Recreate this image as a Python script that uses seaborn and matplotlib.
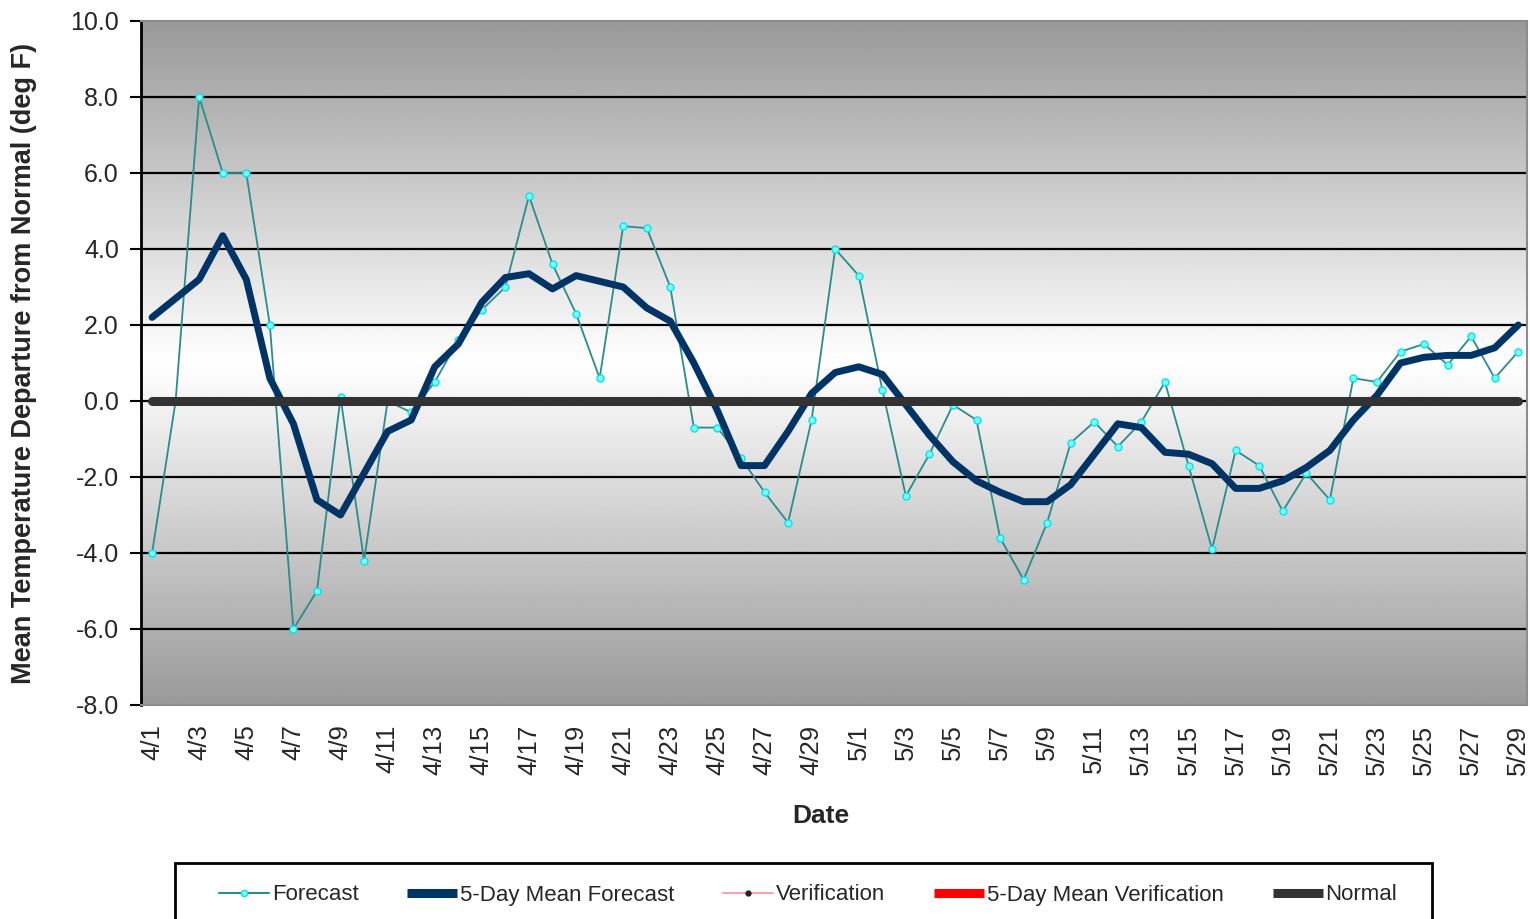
import numpy as np
import pandas as pd
import matplotlib
matplotlib.use("Agg")
import matplotlib.pyplot as plt
from matplotlib.lines import Line2D
from matplotlib.patches import Rectangle
import seaborn as sns

# Daily labels, 1 April through 29 May
dates = [f"4/{d}" for d in range(1, 31)] + [f"5/{d}" for d in range(1, 30)]

# Daily forecast departure from normal (deg F)
forecast = [
    -4.0, 0.0, 8.0, 6.0, 6.0, 2.0, -6.0, -5.0, 0.1, -4.2,
    0.0, -0.3, 0.5, 1.6, 2.4, 3.0, 5.4, 3.6, 2.3, 0.6,
    4.6, 4.55, 3.0, -0.7, -0.7, -1.5, -2.4, -3.2, -0.5, 4.0,
    3.3, 0.3, -2.5, -1.4, -0.1, -0.5, -3.6, -4.7, -3.2, -1.1,
    -0.55, -1.2, -0.55, 0.5, -1.7, -3.9, -1.3, -1.7, -2.9, -1.9,
    -2.6, 0.6, 0.5, 1.3, 1.5, 0.95, 1.7, 0.6, 1.3,
]

# 5-day running mean of the forecast
mean_forecast = [
    2.2, 2.7, 3.2, 4.35, 3.2, 0.6, -0.6, -2.6, -3.0, -1.9,
    -0.8, -0.5, 0.9, 1.5, 2.6, 3.25, 3.35, 2.95, 3.3, 3.15,
    3.0, 2.45, 2.1, 1.0, -0.25, -1.7, -1.7, -0.8, 0.2, 0.75,
    0.9, 0.7, -0.1, -0.9, -1.6, -2.1, -2.4, -2.65, -2.65, -2.2,
    -1.4, -0.6, -0.7, -1.35, -1.4, -1.65, -2.3, -2.3, -2.1, -1.75,
    -1.3, -0.5, 0.15, 1.0, 1.15, 1.2, 1.2, 1.4, 2.0,
]

normal = [0.0] * len(dates)

y_ticks = [-8.0, -6.0, -4.0, -2.0, 0.0, 2.0, 4.0, 6.0, 8.0, 10.0]

df = pd.DataFrame({
    "day": np.arange(len(dates)),
    "date": dates,
    "Forecast": forecast,
    "5-Day Mean Forecast": mean_forecast,
    "Normal": normal,
})

sns.set_style("white")
plt.rcParams["font.family"] = ["Liberation Sans", "DejaVu Sans"]

fig = plt.figure(figsize=(15.3, 9.19), dpi=100)
ax = fig.add_axes([141 / 1530, 1 - 705 / 919, (1527 - 141) / 1530, (705 - 21) / 919])

ymin, ymax = y_ticks[0], y_ticks[-1]
ax.set_xlim(-0.47, len(dates) - 1 + 0.37)
ax.set_ylim(ymin, ymax)

# Vertical gray gradient: light in the middle, darker toward top and bottom
yy = np.linspace(ymax, ymin, 400)
centre = (ymax + ymin) / 2
half = (ymax - ymin) / 2
shade = 1.0 - (1.0 - 0.60) * np.abs(yy - centre) / half
grad = np.repeat(shade[:, None], 2, axis=1)
ax.imshow(grad, cmap="gray", vmin=0, vmax=1, aspect="auto",
          extent=(0, 1, 0, 1), transform=ax.transAxes, zorder=0,
          interpolation="bilinear")

# Horizontal grid lines
for yv in y_ticks[1:-1]:
    ax.axhline(yv, color="black", lw=1.6, zorder=1)

sns.lineplot(data=df, x="day", y="Forecast", ax=ax, color="#2a8c8c", lw=1.3,
             marker="o", markersize=5, markerfacecolor="#7fffff",
             markeredgecolor="#00e5ee", markeredgewidth=1.0, zorder=3)
sns.lineplot(data=df, x="day", y="5-Day Mean Forecast", ax=ax, color="#003366",
             lw=5.0, zorder=4, solid_joinstyle="round", solid_capstyle="round")
sns.lineplot(data=df, x="day", y="Normal", ax=ax, color="#333333", lw=6.5,
             zorder=5, solid_capstyle="round")

ax.set_xticks(df["day"][::2])
ax.set_xticklabels(df["date"][::2], rotation=90, fontsize=18.5, va="top", ha="center")
ax.tick_params(axis="x", length=0, pad=14)
ax.set_yticks(y_ticks)
ax.set_yticklabels([f"{v:.1f}" for v in y_ticks], fontsize=18)
ax.tick_params(axis="y", direction="out", length=8, width=1.5, color="black",
               pad=8, left=True)

ax.set_xlabel("Date", fontsize=19, fontweight="bold")
ax.xaxis.set_label_coords((821 - 141) / 1386, (705 - 804) / 684)
ax.set_ylabel("Mean Temperature Departure from Normal (deg F)", fontsize=19.5,
              fontweight="bold", labelpad=24)

for side in ["top", "right", "bottom"]:
    ax.spines[side].set_color("#8c8c8c")
    ax.spines[side].set_linewidth(1.5)
ax.spines["left"].set_color("black")
ax.spines["left"].set_linewidth(2.0)
for s in ax.spines.values():
    s.set_zorder(6)

# Legend box running off the lower edge of the figure
fig.patches.append(Rectangle((175 / 1530, -0.05), (1432 - 175) / 1530,
                             0.05 + 1 - 863 / 919, transform=fig.transFigure,
                             facecolor="white", edgecolor="black", lw=2.0))

handles = [
    Line2D([], [], color="#2a8c8c", lw=1.5, marker="o", markersize=4.5,
           markerfacecolor="#7fffff", markeredgecolor="#00e5ee"),
    Line2D([], [], color="#003366", lw=6.5, solid_capstyle="butt"),
    Line2D([], [], color="#ff9999", lw=1.3, marker="o", markersize=3.5,
           markerfacecolor="#222222", markeredgecolor="#222222"),
    Line2D([], [], color="#ff0000", lw=6.5, solid_capstyle="butt"),
    Line2D([], [], color="#333333", lw=6.5, solid_capstyle="butt"),
]
labels = ["Forecast", "5-Day Mean Forecast", "Verification",
          "5-Day Mean Verification", "Normal"]
fig.legend(handles, labels, loc="center", bbox_to_anchor=(808 / 1530, 1 - 895 / 919),
           ncol=5, frameon=False, fontsize=16, handlelength=2.25,
           handletextpad=0.12, columnspacing=2.2)

fig.savefig("out.png", dpi=100)
